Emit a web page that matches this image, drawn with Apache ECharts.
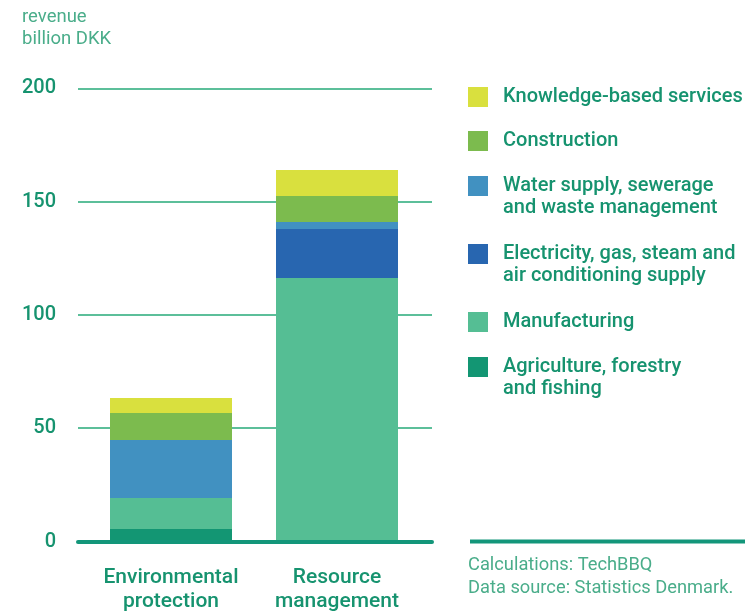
<!DOCTYPE html>
<html>
<head>
<meta charset="utf-8">
<script src="https://cdn.jsdelivr.net/npm/echarts@6/dist/echarts.min.js"></script>
<style>
  html, body { margin: 0; padding: 0; background: #ffffff; }
  #chart { width: 748px; height: 614px; }
</style>
</head>
<body>
<div id="chart"></div>
<script>
// Revenue by industry, billion DKK
const categories = ['Environmental\nprotection', 'Resource\nmanagement'];

const agriculture   = [5.5, 0];
const manufacturing = [13.7, 116.3];
const electricity   = [0, 21.6];
const water         = [25.6, 3.1];
const construction  = [11.9, 11.5];
const knowledge     = [6.6, 11.4];

const yTicks = { min: 0, max: 200, interval: 50 };

const seriesNames = [
  'Agriculture, forestry\nand fishing',
  'Manufacturing',
  'Electricity, gas, steam and\nair conditioning supply',
  'Water supply, sewerage\nand waste management',
  'Construction',
  'Knowledge-based services'
];
const seriesValues = [agriculture, manufacturing, electricity, water, construction, knowledge];
const seriesColors = ['#139673', '#55be94', '#2866b0', '#4191c1', '#7cbb4e', '#d9e03e'];

const mainText = '#16936f';
const softText = '#4aad8a';
const FONT = 'Roboto, "Noto Sans", sans-serif';

// legend entries, top to bottom, with the top of each swatch
const legendOrder = [5, 4, 3, 2, 1, 0];
const legendTops = [87, 131, 176, 244, 312, 357];

const legends = legendOrder.map((idx, k) => {
  const name = seriesNames[idx];
  const twoLine = name.indexOf('\n') >= 0;
  return {
    data: [name],
    left: 468,
    top: legendTops[k] - 3,
    padding: 0,
    orient: 'vertical',
    selectedMode: false,
    itemWidth: 20,
    itemHeight: twoLine ? 42 : 20,
    // two-line entries: swatch sits beside the first line
    icon: twoLine ? 'path://M0,0H20V20H0Z M20,42' : 'rect',
    itemStyle: { borderWidth: 0 },
    textStyle: {
      color: mainText,
      fontFamily: FONT,
      fontWeight: 500,
      fontSize: 20,
      lineHeight: 22,
      padding: [4, 0, 0, 10]
    }
  };
});

const chart = echarts.init(document.getElementById('chart'), null, { renderer: 'canvas' });

chart.setOption({
  animation: false,
  backgroundColor: '#ffffff',
  title: [
    {
      text: 'revenue\nbillion DKK',
      left: 22,
      top: 6,
      padding: 0,
      textStyle: { color: softText, fontFamily: FONT, fontWeight: 'normal', fontSize: 18.5, lineHeight: 22 }
    },
    {
      text: 'Calculations: TechBBQ\nData source: Statistics Denmark.',
      left: 468,
      top: 554,
      padding: 0,
      textStyle: { color: softText, fontFamily: FONT, fontWeight: 'normal', fontSize: 18.3, lineHeight: 23 }
    }
  ],
  legend: legends,
  grid: [
    // frame with value scale, gridlines and baseline
    { left: 78, right: 316, top: 88.3, bottom: 72.5, containLabel: false },
    // bars
    { left: 88, right: 328, top: 88.3, bottom: 72.5, containLabel: false }
  ],
  xAxis: [
    {
      gridIndex: 0,
      type: 'category',
      data: categories,
      z: 10,
      axisLine: { show: true, lineStyle: { color: '#13967a', width: 4 } },
      axisTick: { show: false },
      axisLabel: { show: false }
    },
    {
      gridIndex: 1,
      type: 'category',
      data: categories,
      axisLine: { show: false },
      axisTick: { show: false },
      axisLabel: {
        interval: 0,
        hideOverlap: false,
        margin: 24,
        color: mainText,
        fontFamily: FONT,
        fontWeight: 500,
        fontSize: 21,
        lineHeight: 24
      }
    }
  ],
  yAxis: [
    {
      gridIndex: 0,
      type: 'value',
      min: yTicks.min,
      max: yTicks.max,
      interval: yTicks.interval,
      axisLine: { show: false },
      axisTick: { show: false },
      axisLabel: {
        margin: 22,
        color: mainText,
        fontFamily: FONT,
        fontWeight: 500,
        fontSize: 20
      },
      splitLine: { show: true, lineStyle: { color: '#5cbf9a', width: 2 } }
    },
    {
      gridIndex: 1,
      type: 'value',
      min: yTicks.min,
      max: yTicks.max,
      show: false,
      splitLine: { show: false }
    }
  ],
  series: seriesNames.map((name, i) => ({
    name: name,
    type: 'bar',
    stack: 'total',
    xAxisIndex: 1,
    yAxisIndex: 1,
    barWidth: 122,
    data: seriesValues[i],
    itemStyle: { color: seriesColors[i] },
    emphasis: { disabled: true }
  })),
  graphic: [
    {
      type: 'line',
      shape: { x1: 470, y1: 541.5, x2: 745, y2: 541.5 },
      style: { stroke: '#13967a', lineWidth: 4 },
      silent: true
    }
  ]
});
</script>
</body>
</html>
